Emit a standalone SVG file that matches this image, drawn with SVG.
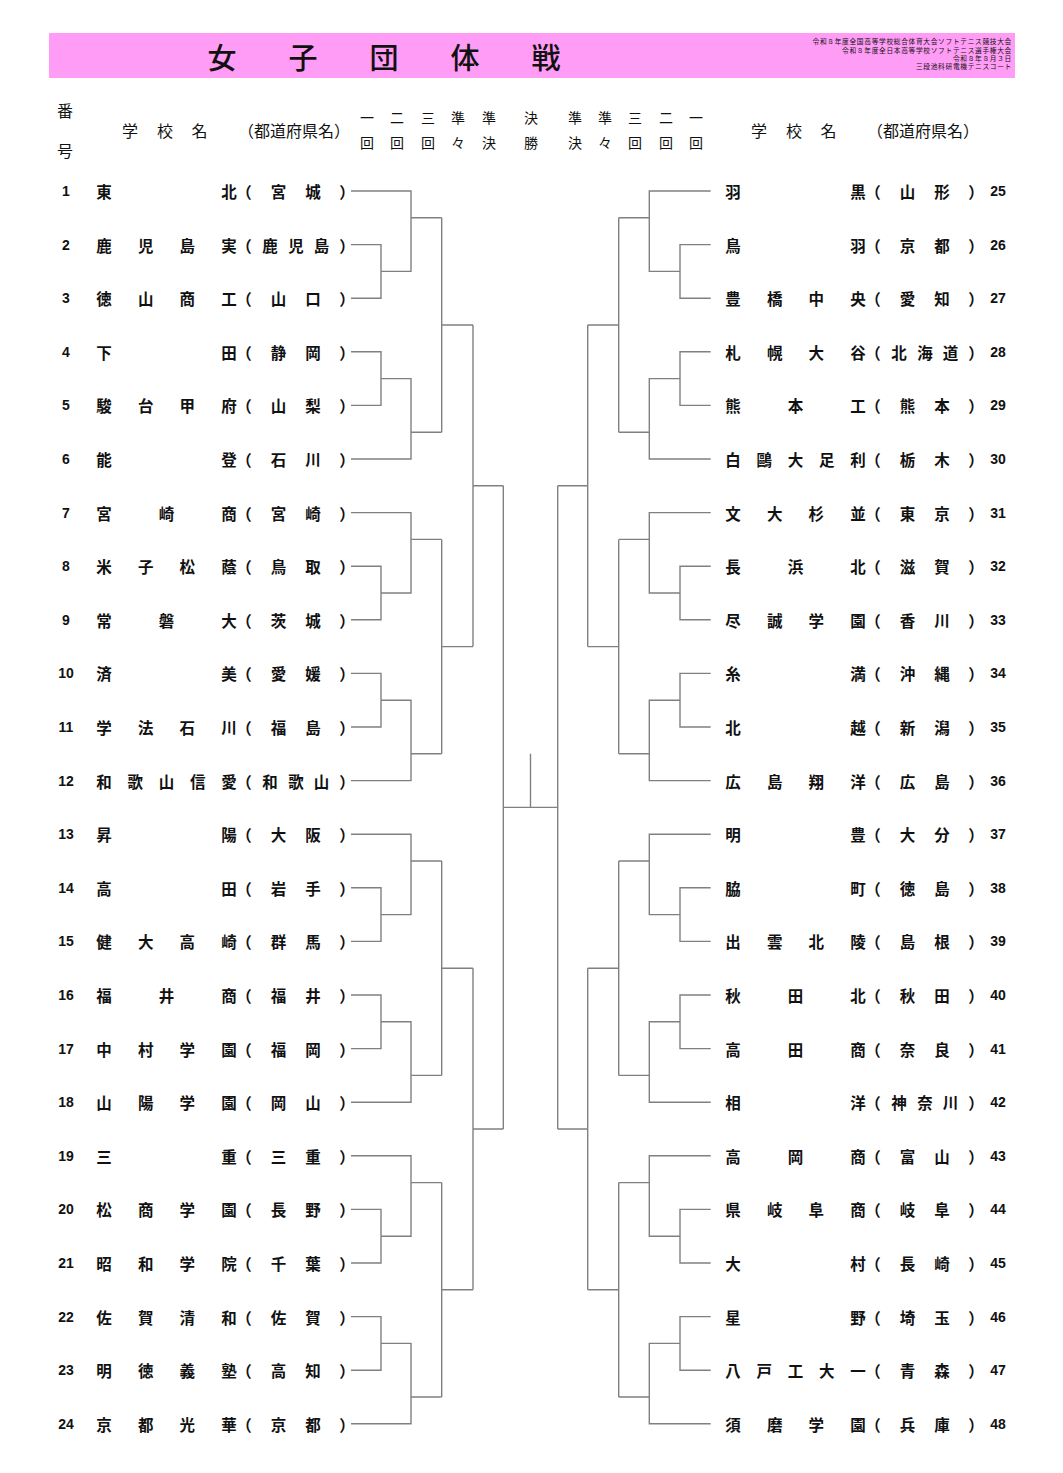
<svg xmlns="http://www.w3.org/2000/svg" width="1063" height="1473" viewBox="0 0 1063 1473">
<style>
text { font-family: "Noto Sans CJK JP", "Noto Sans", sans-serif; fill: #111; dominant-baseline: central; }
.nm { font-size: 15.5px; font-weight: bold; text-anchor: middle; }
.num { font-family: "Liberation Sans", Arial, sans-serif; font-size: 14px; font-weight: bold; text-anchor: middle; }
.hd { font-size: 16px; text-anchor: middle; }
.rd { font-size: 14px; text-anchor: middle; }
.ttl { font-size: 29px; font-weight: 500; text-anchor: middle; }
.sm { font-size: 6.7px; letter-spacing: 0.7px; text-anchor: end; }
.ln { fill: none; stroke: #808080; stroke-width: 1.4; }
</style>
<rect width="1063" height="1473" fill="#fff"/>
<g id="header">
<rect x="49" y="33" width="966" height="45" fill="#ff9cf5"/>
<text class="ttl" x="222 303 384 465 546" y="56">女子団体戦</text>
<text class="sm" x="1012" y="41.3">令和８年度全国高等学校総合体育大会ソフトテニス競技大会</text>
<text class="sm" x="1012" y="49.6">令和８年度全日本高等学校ソフトテニス選手権大会</text>
<text class="sm" x="1012" y="57.9">令和８年８月３日</text>
<text class="sm" x="1012" y="66.2">三段池科研電機テニスコート</text>
</g>
<g id="column-heads">
<text class="hd" x="65" y="110">番</text>
<text class="hd" x="65" y="150">号</text>
<text class="hd" x="130 165 199.5" y="130">学校名</text>
<text class="hd" x="294" y="130">（都道府県名）</text>
<text class="hd" x="759 794 828.5" y="130">学校名</text>
<text class="hd" x="923" y="130">（都道府県名）</text>
<text class="rd" x="367 397 428 458 489 531 575 605 635 666 696" y="117">一二三準準決準準三二一</text>
<text class="rd" x="367 397 428 458 489 531 575 605 635 666 696" y="142">回回回々決勝決々回回回</text>
</g>
<g id="connectors" class="ln">
<path d="M351,191H411V271.4H381 M351,244.6H381V298.2H351 M411,217.8H441.7 M351,351.8H381V405.4H351 M381,378.6H411V459H351 M411,432.2H441.7 M441.7,217.8V432.2 M441.7,325H473"/>
<path d="M351,512.6H411V593H381 M351,566.2H381V619.8H351 M411,539.4H441.7 M351,673.4H381V727H351 M381,700.2H411V780.6H351 M411,753.8H441.7 M441.7,539.4V753.8 M441.7,646.6H473"/>
<path d="M351,834.2H411V914.6H381 M351,887.8H381V941.4H351 M411,861H441.7 M351,995H381V1048.6H351 M381,1021.8H411V1102.2H351 M411,1075.4H441.7 M441.7,861V1075.4 M441.7,968.2H473"/>
<path d="M351,1155.8H411V1236.2H381 M351,1209.4H381V1263H351 M411,1182.6H441.7 M351,1316.6H381V1370.2H351 M381,1343.4H411V1423.8H351 M411,1397H441.7 M441.7,1182.6V1397 M441.7,1289.8H473"/>
<path d="M473,325V646.6 M473,485.8H503.3 M473,968.2V1289.8 M473,1129H503.3 M503.3,485.8V1129"/>
<path d="M710.7,191H649.3V271.4H680 M710.7,244.6H680V298.2H710.7 M649.3,217.8H618.7 M710.7,351.8H680V405.4H710.7 M680,378.6H649.3V459H710.7 M649.3,432.2H618.7 M618.7,217.8V432.2 M618.7,325H587.7"/>
<path d="M710.7,512.6H649.3V593H680 M710.7,566.2H680V619.8H710.7 M649.3,539.4H618.7 M710.7,673.4H680V727H710.7 M680,700.2H649.3V780.6H710.7 M649.3,753.8H618.7 M618.7,539.4V753.8 M618.7,646.6H587.7"/>
<path d="M710.7,834.2H649.3V914.6H680 M710.7,887.8H680V941.4H710.7 M649.3,861H618.7 M710.7,995H680V1048.6H710.7 M680,1021.8H649.3V1102.2H710.7 M649.3,1075.4H618.7 M618.7,861V1075.4 M618.7,968.2H587.7"/>
<path d="M710.7,1155.8H649.3V1236.2H680 M710.7,1209.4H680V1263H710.7 M649.3,1182.6H618.7 M710.7,1316.6H680V1370.2H710.7 M680,1343.4H649.3V1423.8H710.7 M649.3,1397H618.7 M618.7,1182.6V1397 M618.7,1289.8H587.7"/>
<path d="M587.7,325V646.6 M587.7,485.8H557.7 M587.7,968.2V1289.8 M587.7,1129H557.7 M557.7,485.8V1129"/>
<path d="M503.3,807.4H557.7 M530.5,753.8V807.4"/>
</g>
<g id="team-1"><text class="num" x="66" y="191">1</text><text class="nm" x="104 229" y="191">東北</text><text class="nm" x="244 278.5 313 347" y="191">（宮城）</text></g>
<g id="team-2"><text class="num" x="66" y="244.6">2</text><text class="nm" x="104 145.7 187.3 229" y="244.6">鹿児島実</text><text class="nm" x="244 270 296 321.5 347" y="244.6">（鹿児島）</text></g>
<g id="team-3"><text class="num" x="66" y="298.2">3</text><text class="nm" x="104 145.7 187.3 229" y="298.2">徳山商工</text><text class="nm" x="244 278.5 313 347" y="298.2">（山口）</text></g>
<g id="team-4"><text class="num" x="66" y="351.8">4</text><text class="nm" x="104 229" y="351.8">下田</text><text class="nm" x="244 278.5 313 347" y="351.8">（静岡）</text></g>
<g id="team-5"><text class="num" x="66" y="405.4">5</text><text class="nm" x="104 145.7 187.3 229" y="405.4">駿台甲府</text><text class="nm" x="244 278.5 313 347" y="405.4">（山梨）</text></g>
<g id="team-6"><text class="num" x="66" y="459">6</text><text class="nm" x="104 229" y="459">能登</text><text class="nm" x="244 278.5 313 347" y="459">（石川）</text></g>
<g id="team-7"><text class="num" x="66" y="512.6">7</text><text class="nm" x="104 166.5 229" y="512.6">宮崎商</text><text class="nm" x="244 278.5 313 347" y="512.6">（宮崎）</text></g>
<g id="team-8"><text class="num" x="66" y="566.2">8</text><text class="nm" x="104 145.7 187.3 229" y="566.2">米子松蔭</text><text class="nm" x="244 278.5 313 347" y="566.2">（鳥取）</text></g>
<g id="team-9"><text class="num" x="66" y="619.8">9</text><text class="nm" x="104 166.5 229" y="619.8">常磐大</text><text class="nm" x="244 278.5 313 347" y="619.8">（茨城）</text></g>
<g id="team-10"><text class="num" x="66" y="673.4">10</text><text class="nm" x="104 229" y="673.4">済美</text><text class="nm" x="244 278.5 313 347" y="673.4">（愛媛）</text></g>
<g id="team-11"><text class="num" x="66" y="727">11</text><text class="nm" x="104 145.7 187.3 229" y="727">学法石川</text><text class="nm" x="244 278.5 313 347" y="727">（福島）</text></g>
<g id="team-12"><text class="num" x="66" y="780.6">12</text><text class="nm" x="104 135.3 166.5 197.8 229" y="780.6">和歌山信愛</text><text class="nm" x="244 270 296 321.5 347" y="780.6">（和歌山）</text></g>
<g id="team-13"><text class="num" x="66" y="834.2">13</text><text class="nm" x="104 229" y="834.2">昇陽</text><text class="nm" x="244 278.5 313 347" y="834.2">（大阪）</text></g>
<g id="team-14"><text class="num" x="66" y="887.8">14</text><text class="nm" x="104 229" y="887.8">高田</text><text class="nm" x="244 278.5 313 347" y="887.8">（岩手）</text></g>
<g id="team-15"><text class="num" x="66" y="941.4">15</text><text class="nm" x="104 145.7 187.3 229" y="941.4">健大高崎</text><text class="nm" x="244 278.5 313 347" y="941.4">（群馬）</text></g>
<g id="team-16"><text class="num" x="66" y="995">16</text><text class="nm" x="104 166.5 229" y="995">福井商</text><text class="nm" x="244 278.5 313 347" y="995">（福井）</text></g>
<g id="team-17"><text class="num" x="66" y="1048.6">17</text><text class="nm" x="104 145.7 187.3 229" y="1048.6">中村学園</text><text class="nm" x="244 278.5 313 347" y="1048.6">（福岡）</text></g>
<g id="team-18"><text class="num" x="66" y="1102.2">18</text><text class="nm" x="104 145.7 187.3 229" y="1102.2">山陽学園</text><text class="nm" x="244 278.5 313 347" y="1102.2">（岡山）</text></g>
<g id="team-19"><text class="num" x="66" y="1155.8">19</text><text class="nm" x="104 229" y="1155.8">三重</text><text class="nm" x="244 278.5 313 347" y="1155.8">（三重）</text></g>
<g id="team-20"><text class="num" x="66" y="1209.4">20</text><text class="nm" x="104 145.7 187.3 229" y="1209.4">松商学園</text><text class="nm" x="244 278.5 313 347" y="1209.4">（長野）</text></g>
<g id="team-21"><text class="num" x="66" y="1263">21</text><text class="nm" x="104 145.7 187.3 229" y="1263">昭和学院</text><text class="nm" x="244 278.5 313 347" y="1263">（千葉）</text></g>
<g id="team-22"><text class="num" x="66" y="1316.6">22</text><text class="nm" x="104 145.7 187.3 229" y="1316.6">佐賀清和</text><text class="nm" x="244 278.5 313 347" y="1316.6">（佐賀）</text></g>
<g id="team-23"><text class="num" x="66" y="1370.2">23</text><text class="nm" x="104 145.7 187.3 229" y="1370.2">明徳義塾</text><text class="nm" x="244 278.5 313 347" y="1370.2">（高知）</text></g>
<g id="team-24"><text class="num" x="66" y="1423.8">24</text><text class="nm" x="104 145.7 187.3 229" y="1423.8">京都光華</text><text class="nm" x="244 278.5 313 347" y="1423.8">（京都）</text></g>
<g id="team-25"><text class="nm" x="733 858" y="191">羽黒</text><text class="nm" x="873 907.5 942 976" y="191">（山形）</text><text class="num" x="998" y="191">25</text></g>
<g id="team-26"><text class="nm" x="733 858" y="244.6">鳥羽</text><text class="nm" x="873 907.5 942 976" y="244.6">（京都）</text><text class="num" x="998" y="244.6">26</text></g>
<g id="team-27"><text class="nm" x="733 774.7 816.3 858" y="298.2">豊橋中央</text><text class="nm" x="873 907.5 942 976" y="298.2">（愛知）</text><text class="num" x="998" y="298.2">27</text></g>
<g id="team-28"><text class="nm" x="733 774.7 816.3 858" y="351.8">札幌大谷</text><text class="nm" x="873 899 925 950.5 976" y="351.8">（北海道）</text><text class="num" x="998" y="351.8">28</text></g>
<g id="team-29"><text class="nm" x="733 795.5 858" y="405.4">熊本工</text><text class="nm" x="873 907.5 942 976" y="405.4">（熊本）</text><text class="num" x="998" y="405.4">29</text></g>
<g id="team-30"><text class="nm" x="733 764.3 795.5 826.8 858" y="459">白鷗大足利</text><text class="nm" x="873 907.5 942 976" y="459">（栃木）</text><text class="num" x="998" y="459">30</text></g>
<g id="team-31"><text class="nm" x="733 774.7 816.3 858" y="512.6">文大杉並</text><text class="nm" x="873 907.5 942 976" y="512.6">（東京）</text><text class="num" x="998" y="512.6">31</text></g>
<g id="team-32"><text class="nm" x="733 795.5 858" y="566.2">長浜北</text><text class="nm" x="873 907.5 942 976" y="566.2">（滋賀）</text><text class="num" x="998" y="566.2">32</text></g>
<g id="team-33"><text class="nm" x="733 774.7 816.3 858" y="619.8">尽誠学園</text><text class="nm" x="873 907.5 942 976" y="619.8">（香川）</text><text class="num" x="998" y="619.8">33</text></g>
<g id="team-34"><text class="nm" x="733 858" y="673.4">糸満</text><text class="nm" x="873 907.5 942 976" y="673.4">（沖縄）</text><text class="num" x="998" y="673.4">34</text></g>
<g id="team-35"><text class="nm" x="733 858" y="727">北越</text><text class="nm" x="873 907.5 942 976" y="727">（新潟）</text><text class="num" x="998" y="727">35</text></g>
<g id="team-36"><text class="nm" x="733 774.7 816.3 858" y="780.6">広島翔洋</text><text class="nm" x="873 907.5 942 976" y="780.6">（広島）</text><text class="num" x="998" y="780.6">36</text></g>
<g id="team-37"><text class="nm" x="733 858" y="834.2">明豊</text><text class="nm" x="873 907.5 942 976" y="834.2">（大分）</text><text class="num" x="998" y="834.2">37</text></g>
<g id="team-38"><text class="nm" x="733 858" y="887.8">脇町</text><text class="nm" x="873 907.5 942 976" y="887.8">（徳島）</text><text class="num" x="998" y="887.8">38</text></g>
<g id="team-39"><text class="nm" x="733 774.7 816.3 858" y="941.4">出雲北陵</text><text class="nm" x="873 907.5 942 976" y="941.4">（島根）</text><text class="num" x="998" y="941.4">39</text></g>
<g id="team-40"><text class="nm" x="733 795.5 858" y="995">秋田北</text><text class="nm" x="873 907.5 942 976" y="995">（秋田）</text><text class="num" x="998" y="995">40</text></g>
<g id="team-41"><text class="nm" x="733 795.5 858" y="1048.6">高田商</text><text class="nm" x="873 907.5 942 976" y="1048.6">（奈良）</text><text class="num" x="998" y="1048.6">41</text></g>
<g id="team-42"><text class="nm" x="733 858" y="1102.2">相洋</text><text class="nm" x="873 899 925 950.5 976" y="1102.2">（神奈川）</text><text class="num" x="998" y="1102.2">42</text></g>
<g id="team-43"><text class="nm" x="733 795.5 858" y="1155.8">高岡商</text><text class="nm" x="873 907.5 942 976" y="1155.8">（富山）</text><text class="num" x="998" y="1155.8">43</text></g>
<g id="team-44"><text class="nm" x="733 774.7 816.3 858" y="1209.4">県岐阜商</text><text class="nm" x="873 907.5 942 976" y="1209.4">（岐阜）</text><text class="num" x="998" y="1209.4">44</text></g>
<g id="team-45"><text class="nm" x="733 858" y="1263">大村</text><text class="nm" x="873 907.5 942 976" y="1263">（長崎）</text><text class="num" x="998" y="1263">45</text></g>
<g id="team-46"><text class="nm" x="733 858" y="1316.6">星野</text><text class="nm" x="873 907.5 942 976" y="1316.6">（埼玉）</text><text class="num" x="998" y="1316.6">46</text></g>
<g id="team-47"><text class="nm" x="733 764.3 795.5 826.8 858" y="1370.2">八戸工大一</text><text class="nm" x="873 907.5 942 976" y="1370.2">（青森）</text><text class="num" x="998" y="1370.2">47</text></g>
<g id="team-48"><text class="nm" x="733 774.7 816.3 858" y="1423.8">須磨学園</text><text class="nm" x="873 907.5 942 976" y="1423.8">（兵庫）</text><text class="num" x="998" y="1423.8">48</text></g>
</svg>
